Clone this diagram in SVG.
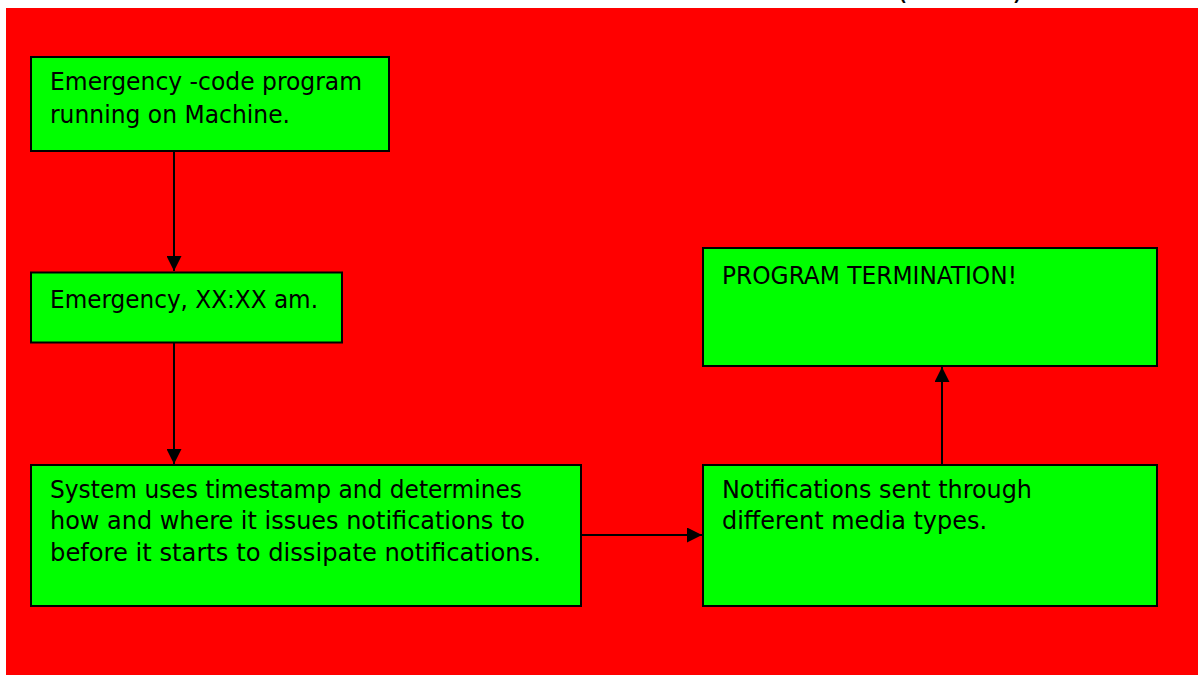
<svg xmlns="http://www.w3.org/2000/svg" width="1198" height="675" viewBox="0 0 1198 675">
<defs>
<style>
.node{fill:#00ff00;stroke:#000;stroke-width:2}
.t{font-family:"DejaVu Sans Condensed","DejaVu Sans","Liberation Sans",sans-serif;font-stretch:condensed;font-size:24.5px;fill:#000}
.p{font-family:"DejaVu Sans Condensed","DejaVu Sans",sans-serif;font-size:34px;fill:#000}
.c{stroke:#000;stroke-width:2;fill:none;marker-end:url(#ah)}
</style>
<marker id="ah" markerWidth="15" markerHeight="15" refX="15" refY="7.5" orient="auto" markerUnits="userSpaceOnUse">
<path d="M0,0 L15,7.5 L0,15 Z" fill="#000"/>
</marker>
</defs>
<rect x="0" y="0" width="1198" height="675" fill="#fff"/>
<text class="p" x="896" y="-1">(</text>
<text class="p" x="1012" y="-1">)</text>
<rect x="6" y="8" width="1192" height="667" fill="#ff0000"/>
<g id="connectors">
<line class="c" x1="174" y1="151" x2="174" y2="271"/>
<line class="c" x1="174" y1="343" x2="174" y2="464"/>
<line class="c" x1="582" y1="535" x2="702" y2="535"/>
<line class="c" x1="942" y1="464" x2="942" y2="367"/>
</g>
<g id="n1">
<rect class="node" x="31" y="57" width="358" height="94"/>
<text class="t" x="50" y="90" textLength="312" lengthAdjust="spacingAndGlyphs">Emergency -code program</text>
<text class="t" x="50" y="123" textLength="240" lengthAdjust="spacingAndGlyphs">running on Machine.</text>
</g>
<g id="n2">
<rect class="node" x="31" y="272.5" width="311" height="70"/>
<text class="t" x="50" y="308" textLength="268" lengthAdjust="spacingAndGlyphs">Emergency, XX:XX am.</text>
</g>
<g id="n3">
<rect class="node" x="31" y="465" width="550" height="141"/>
<text class="t" x="50" y="498" textLength="472" lengthAdjust="spacingAndGlyphs">System uses timestamp and determines</text>
<text class="t" x="50" y="529" textLength="475" lengthAdjust="spacingAndGlyphs">how and where it issues notifications to</text>
<text class="t" x="50" y="561" textLength="491" lengthAdjust="spacingAndGlyphs">before it starts to dissipate notifications.</text>
</g>
<g id="n4">
<rect class="node" x="703" y="465" width="454" height="141"/>
<text class="t" x="722" y="498" textLength="310" lengthAdjust="spacingAndGlyphs">Notifications sent through</text>
<text class="t" x="722" y="529" textLength="265" lengthAdjust="spacingAndGlyphs">different media types.</text>
</g>
<g id="n5">
<rect class="node" x="703" y="248" width="454" height="118"/>
<text class="t" x="722" y="284" textLength="295" lengthAdjust="spacingAndGlyphs">PROGRAM TERMINATION!</text>
</g>
</svg>
